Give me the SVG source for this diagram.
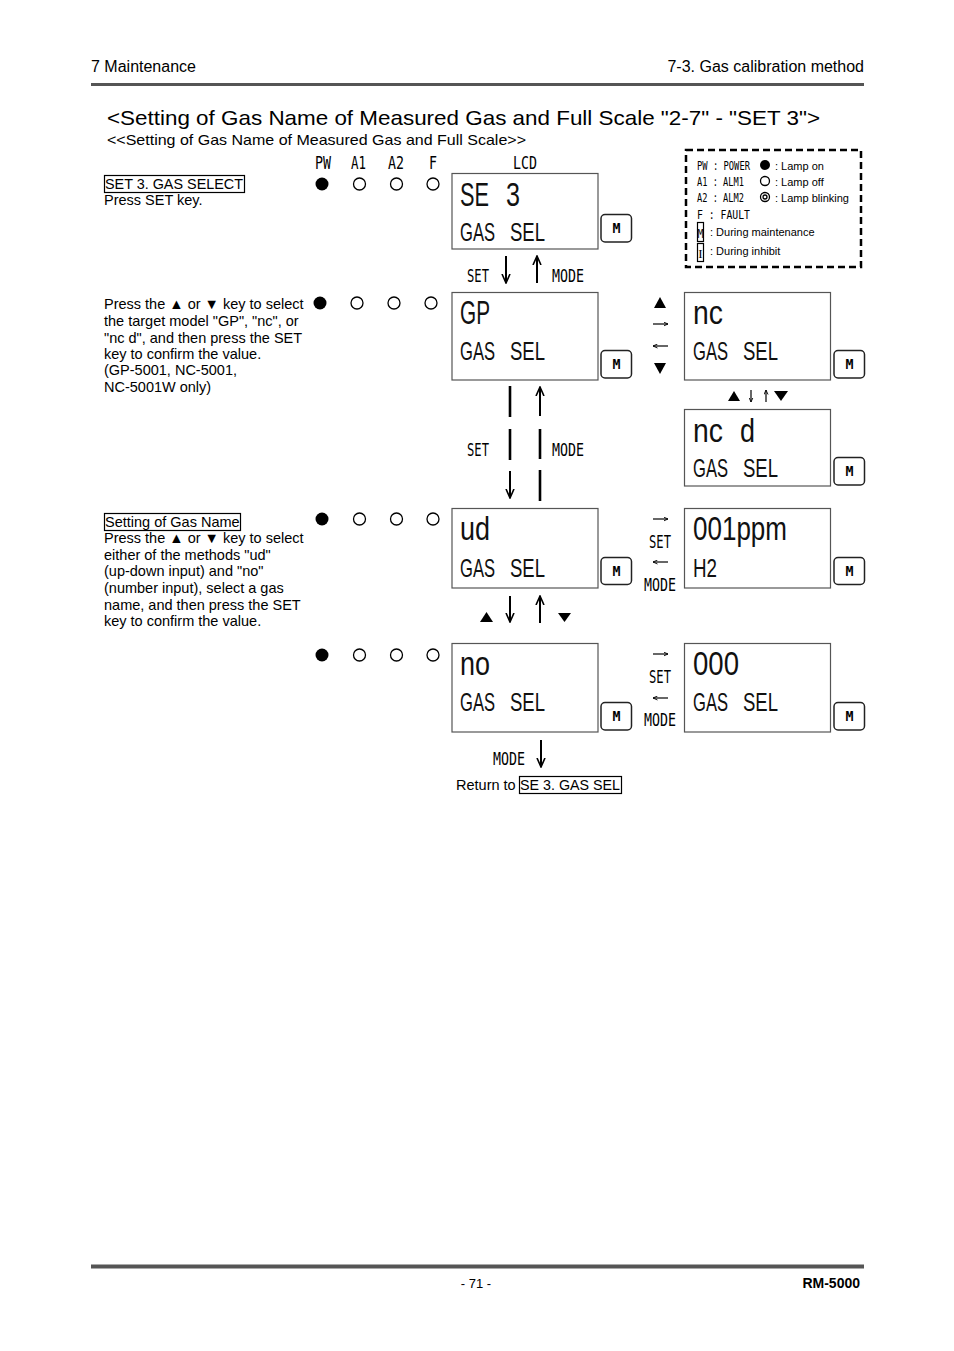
<svg xmlns="http://www.w3.org/2000/svg" width="954" height="1351" viewBox="0 0 954 1351">
<style>
.t{font-family:"Liberation Sans",Arial,sans-serif;fill:#000}
.lcd{font-family:"Liberation Sans",Arial,sans-serif;fill:#111}
.big{font-size:33px}
.sm{font-size:25.5px}
.box{fill:#fff;stroke:#555;stroke-width:1.2}
.mbtn{fill:#fff;stroke:#222;stroke-width:1.5}
.mk{font-family:"DejaVu Sans Mono",monospace;font-weight:bold;font-size:14px;text-anchor:middle;fill:#000}
.lbl{font-family:"DejaVu Sans Mono",monospace;font-size:17px;fill:#000}
.leg{font-family:"DejaVu Sans Mono",monospace;font-size:13px;fill:#000}
.on{fill:#000}
.off{fill:#fff;stroke:#000;stroke-width:1.3}
.ar{stroke:#000;stroke-width:2;fill:none}
.bar{stroke:#000;stroke-width:2.6;fill:none}
.sa{stroke:#000;stroke-width:1.2;fill:none}
.tri{fill:#000}
.rule{stroke:#555;fill:none}
.frame{fill:none;stroke:#000;stroke-width:1.2}
</style>
<defs>
<marker id="ah" viewBox="0 0 10 10" refX="9" refY="5" markerWidth="10" markerHeight="10" markerUnits="userSpaceOnUse" orient="auto">
<path d="M0,1 L9,5 L0,9" fill="none" stroke="#000" stroke-width="1.6"/>
</marker>
<marker id="as" viewBox="0 0 10 10" refX="9" refY="5" markerWidth="5" markerHeight="5" markerUnits="userSpaceOnUse" orient="auto">
<path d="M0,1 L9,5 L0,9" fill="none" stroke="#000" stroke-width="1.8"/>
</marker>
</defs>
<rect width="954" height="1351" fill="#fff"/>

<g id="header">
<text class="t" x="91" y="72" font-size="16">7 Maintenance</text>
<text class="t" x="864" y="72" font-size="16" text-anchor="end">7-3. Gas calibration method</text>
<line class="rule" x1="91" y1="84.5" x2="864" y2="84.5" stroke-width="3"/>
</g>

<g id="title">
<text class="t" x="107" y="125" font-size="21" textLength="713" lengthAdjust="spacingAndGlyphs">&lt;Setting of Gas Name of Measured Gas and Full Scale "2-7" - "SET 3"&gt;</text>
<text class="t" x="107" y="145" font-size="15" textLength="419" lengthAdjust="spacingAndGlyphs">&lt;&lt;Setting of Gas Name of Measured Gas and Full Scale&gt;&gt;</text>
</g>

<g id="legend">
<rect x="686" y="150" width="175" height="117" fill="none" stroke="#000" stroke-width="2.5" stroke-dasharray="7 4"/>
<text class="leg" x="697" y="170" textLength="53" lengthAdjust="spacingAndGlyphs">PW : POWER</text>
<text class="leg" x="697" y="186" textLength="47" lengthAdjust="spacingAndGlyphs">A1 : ALM1</text>
<text class="leg" x="697" y="202" textLength="47" lengthAdjust="spacingAndGlyphs">A2 : ALM2</text>
<text class="leg" x="697" y="219" textLength="53" lengthAdjust="spacingAndGlyphs">F  : FAULT</text>
<circle class="on" cx="765" cy="165" r="5"/>
<circle class="off" cx="765" cy="181" r="4.5"/>
<circle class="off" cx="765" cy="197" r="4.5"/>
<circle class="off" cx="765" cy="197" r="2"/>
<text class="t" x="775" y="170" font-size="11">: Lamp on</text>
<text class="t" x="775" y="186" font-size="11">: Lamp off</text>
<text class="t" x="775" y="202" font-size="11">: Lamp blinking</text>
<rect x="697.5" y="222.5" width="6" height="19" class="frame" stroke-width="1"/>
<text class="leg" x="700.5" y="238" text-anchor="middle" textLength="6" lengthAdjust="spacingAndGlyphs">M</text>
<text class="t" x="710" y="236" font-size="11">: During maintenance</text>
<rect x="697.5" y="243.5" width="6" height="18" class="frame" stroke-width="1"/>
<text x="700.5" y="258" font-family="Liberation Serif, serif" font-size="13" text-anchor="middle">I</text>
<text class="t" x="710" y="255" font-size="11">: During inhibit</text>
</g>

<g id="text-set3">
<rect x="104.5" y="175.5" width="140" height="17" class="frame"/>
<text class="t" x="105" y="189" font-size="14.5" textLength="138" lengthAdjust="spacingAndGlyphs">SET 3. GAS SELECT</text>
<text class="t" x="104" y="205" font-size="14.5">Press SET key.</text>
</g>

<g id="text-model" class="t" font-size="14.5">
<text x="104" y="309">Press the ▲ or ▼ key to select</text>
<text x="104" y="326">the target model "GP", "nc", or</text>
<text x="104" y="343">"nc d", and then press the SET</text>
<text x="104" y="359">key to confirm the value.</text>
<text x="104" y="375">(GP-5001, NC-5001,</text>
<text x="104" y="392">NC-5001W only)</text>
</g>

<g id="text-gasname" class="t" font-size="14.5">
<rect x="104.5" y="513.5" width="136" height="17" class="frame"/>
<text x="105" y="527">Setting of Gas Name</text>
<text x="104" y="543">Press the ▲ or ▼ key to select</text>
<text x="104" y="560">either of the methods "ud"</text>
<text x="104" y="576">(up-down input) and "no"</text>
<text x="104" y="593">(number input), select a gas</text>
<text x="104" y="610">name, and then press the SET</text>
<text x="104" y="626">key to confirm the value.</text>
</g>

<g id="led-labels">
<text class="lbl" x="315" y="169" textLength="16" lengthAdjust="spacingAndGlyphs">PW</text>
<text class="lbl" x="351" y="169" textLength="15" lengthAdjust="spacingAndGlyphs">A1</text>
<text class="lbl" x="388" y="169" textLength="16" lengthAdjust="spacingAndGlyphs">A2</text>
<text class="lbl" x="429" y="169" textLength="8" lengthAdjust="spacingAndGlyphs">F</text>
<text class="lbl" x="513" y="169" textLength="24" lengthAdjust="spacingAndGlyphs">LCD</text>
</g>

<g id="leds-1">
<circle class="on" cx="322" cy="184" r="6.5"/>
<circle class="off" cx="359.5" cy="184" r="6"/>
<circle class="off" cx="396.5" cy="184" r="6"/>
<circle class="off" cx="433" cy="184" r="6"/>
</g>
<g id="leds-2">
<circle class="on" cx="320" cy="303" r="6.5"/>
<circle class="off" cx="357" cy="303" r="6"/>
<circle class="off" cx="394" cy="303" r="6"/>
<circle class="off" cx="431" cy="303" r="6"/>
</g>
<g id="leds-3">
<circle class="on" cx="322" cy="519" r="6.5"/>
<circle class="off" cx="359.5" cy="519" r="6"/>
<circle class="off" cx="396.5" cy="519" r="6"/>
<circle class="off" cx="433" cy="519" r="6"/>
</g>
<g id="leds-4">
<circle class="on" cx="322" cy="655" r="6.5"/>
<circle class="off" cx="359.5" cy="655" r="6"/>
<circle class="off" cx="396.5" cy="655" r="6"/>
<circle class="off" cx="433" cy="655" r="6"/>
</g>

<g id="lcd-se3">
<rect class="box" x="452" y="173.5" width="146" height="75.5"/>
<text class="lcd big" x="460" y="206" textLength="29" lengthAdjust="spacingAndGlyphs">SE</text>
<text class="lcd big" x="506" y="206" textLength="14" lengthAdjust="spacingAndGlyphs">3</text>
<text class="lcd sm" x="460" y="241" textLength="35" lengthAdjust="spacingAndGlyphs">GAS</text>
<text class="lcd sm" x="510" y="241" textLength="35" lengthAdjust="spacingAndGlyphs">SEL</text>
<rect class="mbtn" x="601" y="214.5" width="30.5" height="27.5" rx="4"/>
<text class="mk" x="616.5" y="233" textLength="8" lengthAdjust="spacingAndGlyphs">M</text>
</g>

<g id="lcd-gp">
<rect class="box" x="452" y="292.5" width="146" height="87.5"/>
<text class="lcd big" x="460" y="324" textLength="30" lengthAdjust="spacingAndGlyphs">GP</text>
<text class="lcd sm" x="460" y="360" textLength="35" lengthAdjust="spacingAndGlyphs">GAS</text>
<text class="lcd sm" x="510" y="360" textLength="35" lengthAdjust="spacingAndGlyphs">SEL</text>
<rect class="mbtn" x="601" y="350.5" width="30.5" height="27.5" rx="4"/>
<text class="mk" x="616.5" y="369" textLength="8" lengthAdjust="spacingAndGlyphs">M</text>
</g>

<g id="lcd-nc">
<rect class="box" x="684.5" y="292.5" width="146" height="87.5"/>
<text class="lcd big" x="693" y="324" textLength="30" lengthAdjust="spacingAndGlyphs">nc</text>
<text class="lcd sm" x="693" y="360" textLength="35" lengthAdjust="spacingAndGlyphs">GAS</text>
<text class="lcd sm" x="743" y="360" textLength="35" lengthAdjust="spacingAndGlyphs">SEL</text>
<rect class="mbtn" x="834" y="350.5" width="30.5" height="27.5" rx="4"/>
<text class="mk" x="849.5" y="369" textLength="8" lengthAdjust="spacingAndGlyphs">M</text>
</g>

<g id="lcd-ncd">
<rect class="box" x="684.5" y="409.5" width="146" height="76.5"/>
<text class="lcd big" x="693" y="442" textLength="30" lengthAdjust="spacingAndGlyphs">nc</text>
<text class="lcd big" x="740" y="442" textLength="15" lengthAdjust="spacingAndGlyphs">d</text>
<text class="lcd sm" x="693" y="477" textLength="35" lengthAdjust="spacingAndGlyphs">GAS</text>
<text class="lcd sm" x="743" y="477" textLength="35" lengthAdjust="spacingAndGlyphs">SEL</text>
<rect class="mbtn" x="834" y="457.5" width="30.5" height="27.5" rx="4"/>
<text class="mk" x="849.5" y="476" textLength="8" lengthAdjust="spacingAndGlyphs">M</text>
</g>

<g id="lcd-ud">
<rect class="box" x="452" y="508.5" width="146" height="79.5"/>
<text class="lcd big" x="460" y="540" textLength="30" lengthAdjust="spacingAndGlyphs">ud</text>
<text class="lcd sm" x="460" y="577" textLength="35" lengthAdjust="spacingAndGlyphs">GAS</text>
<text class="lcd sm" x="510" y="577" textLength="35" lengthAdjust="spacingAndGlyphs">SEL</text>
<rect class="mbtn" x="601" y="557.5" width="30.5" height="27" rx="4"/>
<text class="mk" x="616.5" y="576" textLength="8" lengthAdjust="spacingAndGlyphs">M</text>
</g>

<g id="lcd-001ppm">
<rect class="box" x="684.5" y="508.5" width="146" height="79.5"/>
<text class="lcd big" x="693" y="540" textLength="94" lengthAdjust="spacingAndGlyphs">001ppm</text>
<text class="lcd sm" x="693" y="577" textLength="24" lengthAdjust="spacingAndGlyphs">H2</text>
<rect class="mbtn" x="834" y="557.5" width="30.5" height="27" rx="4"/>
<text class="mk" x="849.5" y="576" textLength="8" lengthAdjust="spacingAndGlyphs">M</text>
</g>

<g id="lcd-no">
<rect class="box" x="452" y="643.5" width="146" height="88.5"/>
<text class="lcd big" x="460" y="675" textLength="30" lengthAdjust="spacingAndGlyphs">no</text>
<text class="lcd sm" x="460" y="711" textLength="35" lengthAdjust="spacingAndGlyphs">GAS</text>
<text class="lcd sm" x="510" y="711" textLength="35" lengthAdjust="spacingAndGlyphs">SEL</text>
<rect class="mbtn" x="601" y="702.5" width="30.5" height="27.5" rx="4"/>
<text class="mk" x="616.5" y="721" textLength="8" lengthAdjust="spacingAndGlyphs">M</text>
</g>

<g id="lcd-000">
<rect class="box" x="684.5" y="643.5" width="146" height="88.5"/>
<text class="lcd big" x="693" y="675" textLength="46" lengthAdjust="spacingAndGlyphs">000</text>
<text class="lcd sm" x="693" y="711" textLength="35" lengthAdjust="spacingAndGlyphs">GAS</text>
<text class="lcd sm" x="743" y="711" textLength="35" lengthAdjust="spacingAndGlyphs">SEL</text>
<rect class="mbtn" x="834" y="702.5" width="30.5" height="27.5" rx="4"/>
<text class="mk" x="849.5" y="721" textLength="8" lengthAdjust="spacingAndGlyphs">M</text>
</g>

<g id="return">
<text class="t" x="456" y="790" font-size="14.5">Return to</text>
<rect x="519.5" y="776.5" width="102" height="17" class="frame"/>
<text class="t" x="520" y="790" font-size="14.5" textLength="100" lengthAdjust="spacingAndGlyphs">SE 3. GAS SEL</text>
</g>

<g id="connectors">
<path class="ar" d="M506,256 V283" marker-end="url(#ah)"/>
<path class="ar" d="M537,283 V256" marker-end="url(#ah)"/>
<text class="lbl" x="467" y="282" textLength="22" lengthAdjust="spacingAndGlyphs">SET</text>
<text class="lbl" x="552" y="282" textLength="32" lengthAdjust="spacingAndGlyphs">MODE</text>

<path class="bar" d="M510,386 V417 M510,429 V460"/>
<path class="ar" d="M510,471 V498" marker-end="url(#ah)"/>
<path class="ar" d="M540,416 V387" marker-end="url(#ah)"/>
<path class="bar" d="M540,429 V459 M540,470 V501"/>
<text class="lbl" x="467" y="456" textLength="22" lengthAdjust="spacingAndGlyphs">SET</text>
<text class="lbl" x="552" y="456" textLength="32" lengthAdjust="spacingAndGlyphs">MODE</text>

<polygon class="tri" points="654,308 666,308 660,297"/>
<path class="sa" d="M653,324 H668" marker-end="url(#as)"/>
<path class="sa" d="M668,346 H653" marker-end="url(#as)"/>
<polygon class="tri" points="654,363 666,363 660,374"/>

<polygon class="tri" points="728,401 740,401 734,391"/>
<path class="sa" d="M751,390 V402" marker-end="url(#as)"/>
<path class="sa" d="M766,402 V390" marker-end="url(#as)"/>
<polygon class="tri" points="774,391 788,391 781,401"/>

<path class="sa" d="M653,519 H668" marker-end="url(#as)"/>
<text class="lbl" x="649" y="548" textLength="22" lengthAdjust="spacingAndGlyphs">SET</text>
<path class="sa" d="M668,562 H653" marker-end="url(#as)"/>
<text class="lbl" x="644" y="591" textLength="32" lengthAdjust="spacingAndGlyphs">MODE</text>

<path class="sa" d="M653,654 H668" marker-end="url(#as)"/>
<text class="lbl" x="649" y="683" textLength="22" lengthAdjust="spacingAndGlyphs">SET</text>
<path class="sa" d="M668,698 H653" marker-end="url(#as)"/>
<text class="lbl" x="644" y="726" textLength="32" lengthAdjust="spacingAndGlyphs">MODE</text>

<polygon class="tri" points="480,622 493,622 486.5,612"/>
<path class="ar" d="M510,596 V622" marker-end="url(#ah)"/>
<path class="ar" d="M540,623 V596" stroke="#3a0808" marker-end="url(#ah)"/>
<polygon class="tri" points="558,613 571,613 564.5,622"/>

<text class="lbl" x="493" y="765" textLength="32" lengthAdjust="spacingAndGlyphs">MODE</text>
<path class="ar" d="M541,740 V767" marker-end="url(#ah)"/>
</g>

<g id="footer">
<line class="rule" x1="91" y1="1266.5" x2="864" y2="1266.5" stroke-width="4"/>
<text class="t" x="476" y="1288" font-size="13" text-anchor="middle">- 71 -</text>
<text class="t" x="860" y="1288" font-size="14" font-weight="bold" text-anchor="end">RM-5000</text>
</g>
</svg>
